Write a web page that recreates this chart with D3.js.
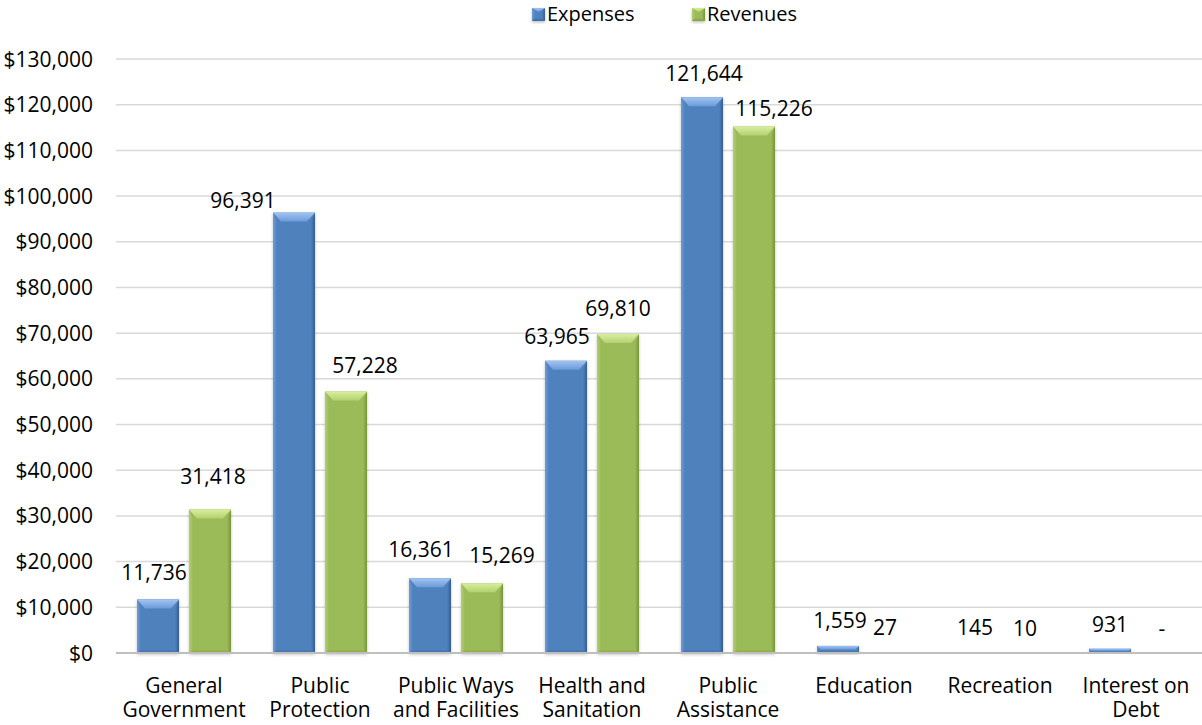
<!DOCTYPE html>
<html>
<head>
<meta charset="utf-8">
<script src="https://cdn.jsdelivr.net/npm/d3@7"></script>
<style>
  html, body { margin: 0; padding: 0; background: #fff; }
  svg { display: block; font-family: "Open Sans", Lato, sans-serif; }
</style>
</head>
<body>
<svg id="chart" width="1202" height="725"></svg>
<script>
// ---- data ----
const categories = ["General\nGovernment", "Public\nProtection", "Public Ways\nand Facilities",
  "Health and\nSanitation", "Public\nAssistance", "Education", "Recreation", "Interest on\nDebt"];
const seriesNames = ["Expenses", "Revenues"];
const expenses = [11736, 96391, 16361, 63965, 121644, 1559, 145, 931];
const revenues = [31418, 57228, 15269, 69810, 115226, 27, 10, 0];
const yTicks = [0, 10000, 20000, 30000, 40000, 50000, 60000, 70000, 80000, 90000, 100000, 110000, 120000, 130000];
// manual data label nudges (dx, dy) as placed in the original
const expenseLabelNudge = [[-4, -2], [-51, 12], [-9, -4], [-9, 0], [2, 1], [2, -1], [1, 0], [0, 0]];
const revenueLabelNudge = [[3, -8], [19, -2], [20, -3], [0, -1], [20, 6], [-5, -1], [-1, 0], [0, 0]];

const seriesColors = {
  Expenses: { body: "#4f81bd", top1: "#a3c4f0", top2: "#6a9bda", left: "#6d9dd8", right: "#345e96", bottom: "#3d679f" },
  Revenues: { body: "#9bbb59", top1: "#d9ee9e", top2: "#b3d170", left: "#b2cf70", right: "#78953a", bottom: "#819d42" }
};

const svg = d3.select("#chart");
const defs = svg.append("defs");
const filt = defs.append("filter").attr("id", "shadow").attr("x", "-20%").attr("y", "-20%").attr("width", "140%").attr("height", "140%");
filt.append("feDropShadow").attr("dx", 0).attr("dy", 1.5).attr("stdDeviation", 1.5).attr("flood-color", "#000").attr("flood-opacity", 0.25);

Object.entries(seriesColors).forEach(([k, c]) => {
  const id = k.toLowerCase();
  const gt = defs.append("linearGradient").attr("id", id + "-top").attr("x1", 0).attr("y1", 0).attr("x2", 0).attr("y2", 1);
  gt.append("stop").attr("offset", "0%").attr("stop-color", c.top1);
  gt.append("stop").attr("offset", "100%").attr("stop-color", c.top2);
  const gl = defs.append("linearGradient").attr("id", id + "-left").attr("x1", 0).attr("y1", 0).attr("x2", 1).attr("y2", 0);
  gl.append("stop").attr("offset", "0%").attr("stop-color", c.left);
  gl.append("stop").attr("offset", "100%").attr("stop-color", c.body);
  const gr = defs.append("linearGradient").attr("id", id + "-right").attr("x1", 0).attr("y1", 0).attr("x2", 1).attr("y2", 0);
  gr.append("stop").attr("offset", "0%").attr("stop-color", c.body);
  gr.append("stop").attr("offset", "100%").attr("stop-color", c.right);
  const gb = defs.append("linearGradient").attr("id", id + "-bottom").attr("x1", 0).attr("y1", 0).attr("x2", 0).attr("y2", 1);
  gb.append("stop").attr("offset", "0%").attr("stop-color", c.body);
  gb.append("stop").attr("offset", "100%").attr("stop-color", c.bottom);
});

const plot = { left: 116, right: 1204, top: 59, bottom: 653 };

const x0 = d3.scaleBand().domain(categories).range([plot.left, plot.right]).paddingInner(0).paddingOuter(0);
const x1 = d3.scaleBand().domain(seriesNames).range([0, x0.bandwidth()]).paddingInner(10 / 52).paddingOuter(0.404);
const y = d3.scaleLinear().domain([0, 130000]).range([plot.bottom, plot.top]);

// gridlines
svg.append("g").selectAll("line").data(yTicks.filter(d => d > 0)).join("line")
  .attr("x1", plot.left).attr("x2", 1202)
  .attr("y1", d => y(d)).attr("y2", d => y(d))
  .attr("stroke", "#d9d9d9").attr("stroke-width", 1.5);

// y tick labels
const fmtMoney = d3.format("$,");
svg.append("g").selectAll("text").data(yTicks).join("text")
  .attr("x", 93).attr("y", d => y(d) + 7.5)
  .attr("text-anchor", "end").attr("font-size", 21).attr("fill", "#000")
  .text(d => fmtMoney(d));

// bevelled bar drawing
function bevelBar(g, xLeft, w, yTop, yBot, key, maxT) {
  const id = key.toLowerCase();
  const c = seriesColors[key];
  const h = yBot - yTop;
  if (h <= 0) return;
  const t = Math.min(maxT || 9, h / 2), s = Math.min(8, w / 2, h / 2), b = Math.min(3, h / 3);
  const xa = xLeft, xb = xLeft + w;
  const bg = g.append("g").attr("filter", "url(#shadow)");
  bg.append("rect").attr("x", xa).attr("y", yTop).attr("width", w).attr("height", h).attr("fill", c.body);
  const poly = pts => pts.map(p => p.join(",")).join(" ");
  bg.append("polygon").attr("points", poly([[xa, yTop], [xa + s * 0.5, yTop + t], [xa + s * 0.5, yBot - b], [xa, yBot]])).attr("fill", `url(#${id}-left)`);
  bg.append("polygon").attr("points", poly([[xb, yTop], [xb - s * 0.5, yTop + t], [xb - s * 0.5, yBot - b], [xb, yBot]])).attr("fill", `url(#${id}-right)`);
  bg.append("polygon").attr("points", poly([[xa, yBot], [xa + s * 0.5, yBot - b], [xb - s * 0.5, yBot - b], [xb, yBot]])).attr("fill", `url(#${id}-bottom)`);
  bg.append("polygon").attr("points", poly([[xa, yTop], [xb, yTop], [xb - s, yTop + t], [xa + s, yTop + t]])).attr("fill", `url(#${id}-top)`);
}

const barsG = svg.append("g");
const seriesData = { Expenses: expenses, Revenues: revenues };
const nudges = { Expenses: expenseLabelNudge, Revenues: revenueLabelNudge };
seriesNames.forEach(sn => {
  seriesData[sn].forEach((v, i) => {
    const cx = x0(categories[i]) + x1(sn);
    bevelBar(barsG, cx, x1.bandwidth(), y(v), y(0), sn);
  });
});

// axis line
svg.append("line").attr("x1", plot.left).attr("x2", 1202).attr("y1", y(0)).attr("y2", y(0))
  .attr("stroke", "#bfbfbf").attr("stroke-width", 2);

// data labels
const fmtNum = d3.format(",");
const labelsG = svg.append("g");
seriesNames.forEach(sn => {
  seriesData[sn].forEach((v, i) => {
    const cx = x0(categories[i]) + x1(sn) + x1.bandwidth() / 2;
    const [dx, dy] = nudges[sn][i];
    labelsG.append("text")
      .attr("x", cx + dx).attr("y", y(v) - 17 + dy)
      .attr("text-anchor", "middle").attr("font-size", 21).attr("fill", "#000")
      .text(v === 0 ? "-" : fmtNum(v));
  });
});

// category labels
const catG = svg.append("g");
categories.forEach(c => {
  const lines = c.split("\n");
  const t = catG.append("text")
    .attr("x", x0(c) + x0.bandwidth() / 2).attr("y", 693)
    .attr("text-anchor", "middle").attr("font-size", 21).attr("fill", "#000");
  lines.forEach((ln, k) => {
    t.append("tspan").attr("x", x0(c) + x0.bandwidth() / 2).attr("dy", k === 0 ? 0 : 24).text(ln);
  });
});

// legend
const legendItems = [{ name: "Expenses", x: 532 }, { name: "Revenues", x: 692 }];
const legG = svg.append("g");
legendItems.forEach(it => {
  const g = legG.append("g");
  bevelBar(g, it.x, 13, 8, 21, it.name, 4);
  legG.append("text").attr("x", it.x + 15).attr("y", 21)
    .attr("font-size", 20).attr("fill", "#000").text(it.name);
});
</script>
</body>
</html>
